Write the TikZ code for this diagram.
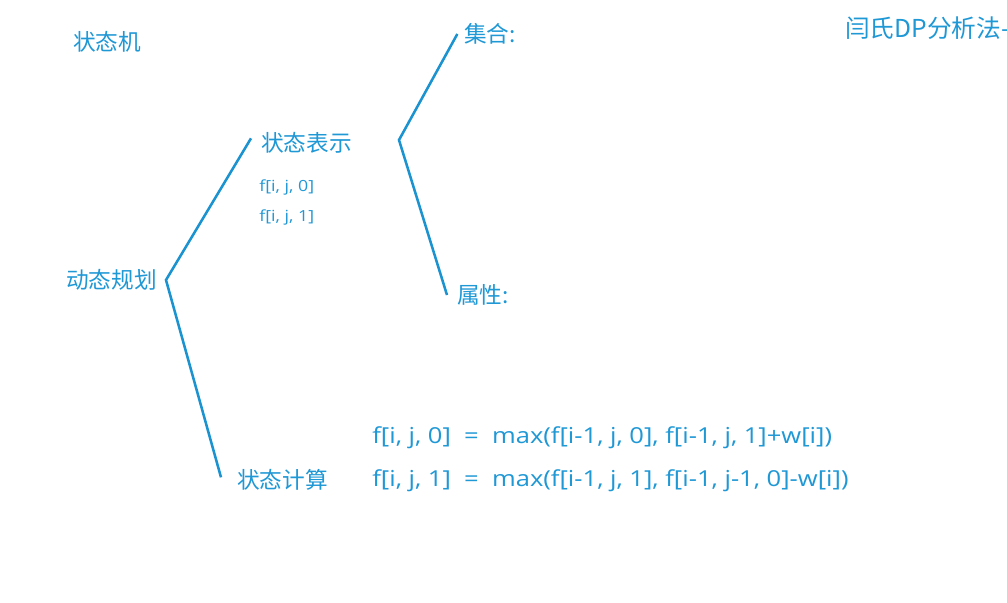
\documentclass[tikz,border=0pt]{standalone}
\usepackage{fontspec}
\setmainfont{Noto Sans CJK SC}
\newfontfamily\latinfont[FakeStretch=1.16]{Open Sans}
\usepackage{tikz}
\usetikzlibrary{positioning}
\definecolor{dpblue}{HTML}{1F98D6}
\definecolor{linkblue}{HTML}{1B93D1}
\tikzstyle{heading}=[anchor=west, inner sep=0pt, text=dpblue, font=\fontsize{17}{20}\selectfont]
\tikzstyle{title}=[anchor=west, inner sep=0pt, text=dpblue, font=\fontsize{18.5}{22}\selectfont]
\tikzstyle{state}=[anchor=west, inner sep=0pt, text=dpblue, font=\latinfont\fontsize{11.5}{14}\selectfont]
\tikzstyle{formula}=[anchor=west, inner sep=0pt, text=dpblue, font=\latinfont\fontsize{16.5}{20}\selectfont]
\tikzstyle{branch}=[draw=linkblue, line width=1.9pt]

\begin{document}
\begin{tikzpicture}[x=0.75pt, y=-0.75pt]
        \useasboundingbox (0,0) rectangle (1007,603);
        \fill[white] (0,0) rectangle (1007,603);

        % Titolo
        \node[title] (header) at (845,28) {闫氏DP分析法-};
        \node[heading] (machine) at (73,42) {状态机};

        % Albero
        \node[heading] (dp) at (66,280) {动态规划};
        \node[heading] (repr) at (261,143) {状态表示};
        \node[heading] (calc) at (237,480) {状态计算};
        \node[heading] (set) at (464,34) {集合:};
        \node[heading] (prop) at (457,295) {属性:};

        % Stati
        \node[state] (f0) at (259,187) {f[i, j, 0]};
        \node[state] (f1) at (259,217) {f[i, j, 1]};

        % Transizioni
        \node[formula] (eq0) at (372,438) {f[i, j, 0]\ \ =\ \ max(f[i-1, j, 0], f[i-1, j, 1]+w[i])};
        \node[formula] (eq1) at (372,481) {f[i, j, 1]\ \ =\ \ max(f[i-1, j, 1], f[i-1, j-1, 0]-w[i])};

        % Rami
        \coordinate (dp fork) at (166,280);
        \coordinate (repr fork) at (399,140);
        \draw[branch] ([xshift=-7.5pt,yshift=3.5pt]repr.west) -- (dp fork) -- ([xshift=-12pt,yshift=2pt]calc.west);
        \draw[branch] ([xshift=-5pt,yshift=0pt]set.west) -- (repr fork) -- ([xshift=-7.5pt]prop.west);
    \end{tikzpicture}
\end{document}
